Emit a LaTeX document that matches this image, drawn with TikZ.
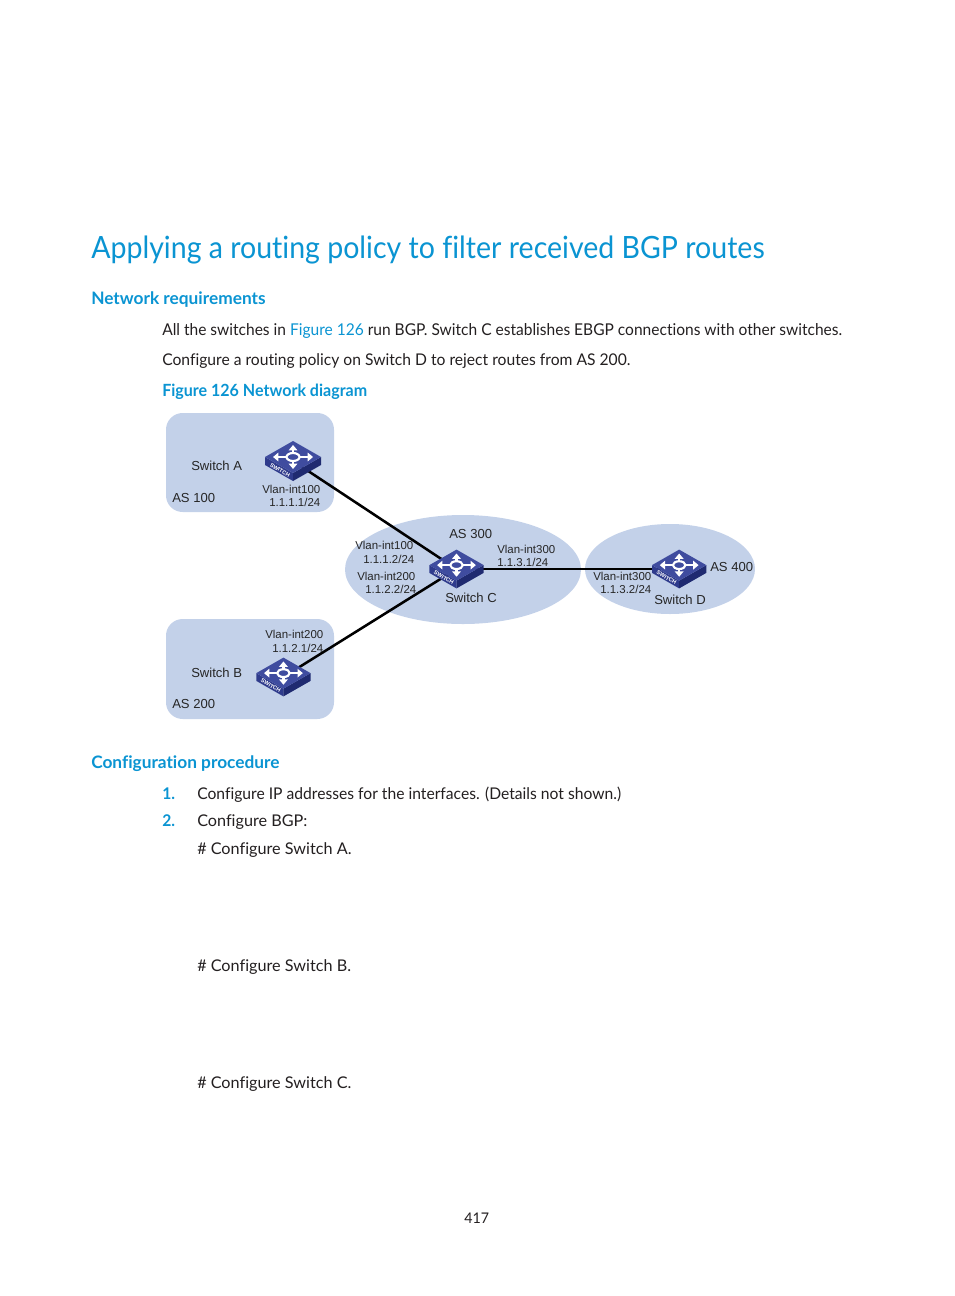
\documentclass[tikz,border=0pt]{standalone}
\usepackage{xcolor}
\usepackage{fontspec}
\setmainfont[Ligatures=CommonOff,FakeStretch=0.97]{Lato}
\newfontfamily\titlefont[Ligatures=CommonOff,FakeStretch=0.93]{Lato}
\newfontfamily\narrowfont[Ligatures=CommonOff,FakeStretch=0.955]{Lato}
\newfontfamily\widefont[Ligatures=CommonOff,FakeStretch=1.005]{Lato}
\newfontfamily\labelfont{Liberation Sans}
\usetikzlibrary{positioning, arrows.meta}
\definecolor{hthead}{HTML}{0A94D2}
\definecolor{htbody}{HTML}{231F20}
\definecolor{aszone}{HTML}{C3D1E9}
\definecolor{swtop}{HTML}{3F4C9F}
\definecolor{swleft}{HTML}{2F3B8C}
\definecolor{swright}{HTML}{1F2A70}

\begin{document}
\begin{tikzpicture}[x=0.75pt, y=-0.75pt, >=Latex, on grid,
  aszone/.style={fill=aszone,draw=none},
  asbox/.style={aszone,rounded corners=12.5pt},
  link/.style={draw=black,line width=1.9pt},
  swnode/.style={minimum width=40pt,minimum height=30pt,inner sep=0pt},
  lab/.style={font=\labelfont\fontsize{9.8pt}{10pt}\selectfont,text=black!85,inner sep=0pt,anchor=base west},
  iflab/.style={lab,font=\labelfont\fontsize{8.6pt}{10pt}\selectfont},
  bodytext/.style={font=\fontsize{12.1pt}{14pt}\selectfont,text=htbody,inner sep=0pt,anchor=base west},
  conftext/.style={bodytext,font=\widefont\fontsize{12.1pt}{14pt}\selectfont},
  headtext/.style={font=\widefont\bfseries\fontsize{12.9pt}{14pt}\selectfont,text=hthead,inner sep=0pt,anchor=base west},
  swarrow/.style={white,line width=1.7pt,-{Triangle[width=6.4pt,length=4pt]}},
  switchicon/.pic={
    \fill[swleft] (-28,-4) -- (0,12) -- (0,20) -- (-28,4) -- cycle;
    \fill[swright] (28,-4) -- (0,12) -- (0,20) -- (28,4) -- cycle;
    \fill[swtop] (-28,-4) -- (0,-20) -- (28,-4) -- (0,12) -- cycle;
    \draw[swarrow] (-7,-4) -- (-20,-4);
    \draw[swarrow] (7,-4) -- (20,-4);
    \draw[swarrow] (0,-8) -- (0,-16);
    \draw[swarrow] (0,0) -- (0,8);
    \draw[white,line width=1.6pt,fill=swtop] (0,-4) ellipse (6.5 and 4);
    \node[rotate=-30,text=white,font=\labelfont\bfseries\fontsize{4.2pt}{5pt}\selectfont,inner sep=0pt] at (-13,9) {SWITCH};
  }]
  \useasboundingbox (0,0) rectangle (954,1296);
  % heading and text
  \node[bodytext,font=\titlefont\fontsize{23pt}{28pt}\selectfont,text=hthead] (title) at (91,258) {Applying a routing policy to filter received BGP routes};
  \node[headtext] (netreq) at (91,304) {Network requirements};
  \node[conftext,font=\narrowfont\fontsize{12.2pt}{14pt}\selectfont] (para1) at (162,335) {All the switches in {\color{hthead}Figure 126} run BGP. Switch C establishes EBGP connections with other switches.};
  \node[bodytext] (para2) at (162,365) {Configure a routing policy on Switch D to reject routes from AS 200.};
  \node[headtext,font=\narrowfont\bfseries\fontsize{12.6pt}{14pt}\selectfont] (figcap) at (162,396) {Figure 126 Network diagram};
  % zones
  \path[asbox] (166,413) rectangle (334,512);
  \path[asbox] (166,619) rectangle (334,719);
  \path[aszone] (463,569.5) ellipse (118 and 54.5);
  \path[aszone] (670,569) ellipse (85 and 45);
  % switches
  \node[swnode] (swC) at (456.5,569) {};
  \node[swnode, above left=81pt and 122.6pt of swC] (swA) {};
  \node[swnode, below left=81pt and 129.8pt of swC] (swB) {};
  \node[swnode, right=167pt of swC] (swD) {};
  \draw[link] (swA.center) -- (swC.center);
  \draw[link] (swB.center) -- (swC.center);
  \draw[draw=black,line width=1.4pt] (swC.center) -- (swD.center);
  \pic at (swA) {switchicon};
  \pic[scale=.97] at (swB) {switchicon};
  \pic[scale=.97] at (swC) {switchicon};
  \pic[scale=.97] at (swD) {switchicon};
  % labels
  \node[lab] (nameA) at (191,470) {Switch A};
  \node[lab] (nameB) at (191,677) {Switch B};
  \node[lab] (nameC) at (445,602) {Switch C};
  \node[lab] (nameD) at (654,604) {Switch D};
  \node[lab] (as100) at (172,502) {AS 100};
  \node[lab] (as200) at (172,708) {AS 200};
  \node[lab] (as300) at (449,538) {AS 300};
  \node[lab] (as400) at (710,571) {AS 400};
  \node[iflab] (ifA1) at (262,493) {Vlan-int100};
  \node[iflab] (ifA2) at (269,506) {1.1.1.1/24};
  \node[iflab] (ifB1) at (265,638) {Vlan-int200};
  \node[iflab] (ifB2) at (272,652) {1.1.2.1/24};
  \node[iflab] (ifC1) at (355,549) {Vlan-int100};
  \node[iflab] (ifC2) at (363,563) {1.1.1.2/24};
  \node[iflab] (ifC3) at (357,580) {Vlan-int200};
  \node[iflab] (ifC4) at (365,593) {1.1.2.2/24};
  \node[iflab] (ifC5) at (497,553) {Vlan-int300};
  \node[iflab] (ifC6) at (497,566) {1.1.3.1/24};
  \node[iflab] (ifD1) at (593,580) {Vlan-int300};
  \node[iflab] (ifD2) at (600,593) {1.1.3.2/24};
  % procedure
  \node[headtext] (confproc) at (91,768) {Configuration procedure};
  \node[bodytext,font=\bfseries\fontsize{12.1pt}{14pt}\selectfont,text=hthead] (num1) at (162,799) {1.};
  \node[bodytext] (step1) at (197,799) {Configure IP addresses for the interfaces. (Details not shown.)};
  \node[bodytext,font=\bfseries\fontsize{12.1pt}{14pt}\selectfont,text=hthead] (num2) at (162,826) {2.};
  \node[conftext] (step2) at (197,826) {Configure BGP:};
  \node[conftext] (confA) at (197,854) {\# Configure Switch A.};
  \node[conftext] (confB) at (197,971) {\# Configure Switch B.};
  \node[conftext] (confC) at (197,1088) {\# Configure Switch C.};
  \node[bodytext,font=\fontsize{11pt}{13pt}\selectfont] (pageno) at (464,1223) {417};
\end{tikzpicture}
\end{document}
